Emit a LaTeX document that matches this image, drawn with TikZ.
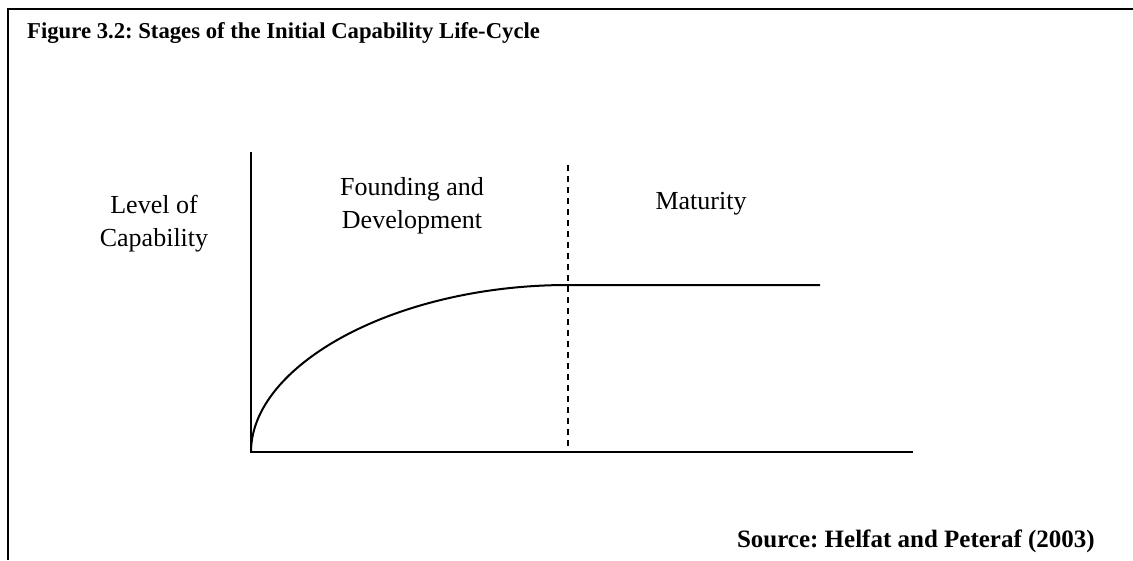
\documentclass[tikz,border=0pt]{standalone}
\usepackage{fontspec}
\setmainfont{Liberation Serif}
\frenchspacing
\begin{document}
\begin{tikzpicture}[x=1pt,y=-1pt,
	axisline/.style={line width=2pt},
	stagetext/.style={align=center, inner sep=0pt, font=\fontsize{26}{32.5}\selectfont},
	boldtext/.style={inner sep=0pt, font=\bfseries\fontsize{22.7}{28}\selectfont}]
	    \useasboundingbox (0,0) rectangle (1133,560);
	    % frame
	    \coordinate (fbot) at (8,560);
	    \coordinate (fcorner) at (8,9);
	    \coordinate (fright) at (1133,9);
	    \draw[line width=2pt] (fbot) -- (fcorner) -- (fright);
	    \node[boldtext, anchor=base west] (title) at (27,38) {Figure 3.2: Stages of the Initial Capability Life-Cycle};
	    % axes
	    \coordinate (O) at (251,452);
	    \coordinate (ytop) at (251,152);
	    \coordinate (xend) at (913,452);
	    \draw[axisline] (ytop) -- (O) -- (xend);
	    % stage boundary
	    \coordinate (dtop) at (568,165);
	    \coordinate (dbot) at (568,452);
	    \draw[line width=1.3pt, dash pattern=on 6pt off 5pt] (dtop) -- (dbot);
	    % capability curve
	    \coordinate (P) at (568,285);
	    \coordinate (pend) at (820,285);
	    \draw[axisline] (O) .. controls (251,365) and (395,285) .. (P) -- (pend);
	    \node[stagetext, anchor=base] (level) at (154,246) {Level of\\Capability};
	    \node[stagetext, anchor=base] (found) at (412,228) {Founding and\\Development};
	    \node[stagetext, anchor=base] (mature) at (701,209) {Maturity};
	    \node[boldtext, anchor=base east, font=\bfseries\fontsize{25}{30}\selectfont] (source) at (1095,547) {Source: Helfat and Peteraf (2003)};
\end{tikzpicture}
\end{document}
